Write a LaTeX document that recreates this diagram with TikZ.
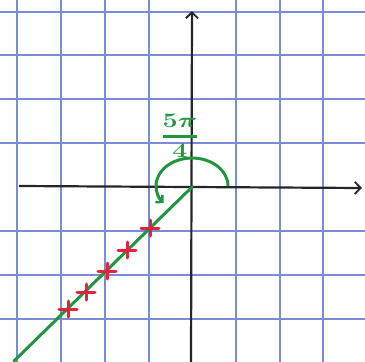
\documentclass[tikz,border=0pt]{standalone}
\usepackage{amsmath}
\usepackage{graphicx}
\usetikzlibrary{arrows.meta}
\begin{document}
\begin{tikzpicture}[x=1pt,y=-1pt,
  gridline/.style={draw=gridblue,line width=1.5pt},
  axis/.style={draw=black!85,line width=2.2pt,-{Straight Barb[length=6pt,width=12pt,line width=1.8pt]}},
  ray/.style={draw=pengreen,line width=3pt,line cap=round},
  redmark/.style={draw=penred,line width=3pt,line cap=round}]
\definecolor{gridblue}{RGB}{120,140,218}
\definecolor{pengreen}{RGB}{34,150,62}
\definecolor{penred}{RGB}{232,34,58}
\fill[white] (0,0) rectangle (365,362);
\useasboundingbox (0,0) rectangle (365,362);
% grid
\foreach \x in {17,61,105,149,236,280,323} \draw[gridline] (\x,0) -- (\x,362);
\foreach \y in {12,55,99,143,231,275,319} \draw[gridline] (0,\y) -- (365,\y);
% axes
\coordinate (O) at (192,187);
\coordinate (xl) at (19,186);
\coordinate (xr) at (362,188);
\coordinate (yb) at (191,362);
\coordinate (yt) at (192,11);
\draw[axis] (xl) -- (xr);
\draw[axis] (yb) -- (yt);
% ray
\coordinate (E) at (14,361);
\draw[ray] (O) -- (E);
% angle arc
\draw[pengreen,line width=3pt,-{Straight Barb[length=5pt,width=10pt,line width=2.4pt]}]
  (228,186) arc[start angle=0,end angle=-218,x radius=36,y radius=28];
% red marks
\foreach \px/\py [count=\i] in {150/228,127/250,107/271,86/292,68/309}{
  \coordinate (m\i) at (\px,\py);
  \draw[redmark] ([xshift=-9pt]m\i) -- ([xshift=9pt]m\i);
  \draw[redmark] ([yshift=-8pt]m\i) -- ([yshift=8pt]m\i);
}
% label
\node[text=pengreen,inner sep=0pt] (lab) at (180,136)
  {\scalebox{1.3}[1]{\fontsize{22}{22}\selectfont$\genfrac{}{}{2.2pt}{0}{\boldsymbol{5\pi}}{\boldsymbol{4}}$}};
\end{tikzpicture}
\end{document}
